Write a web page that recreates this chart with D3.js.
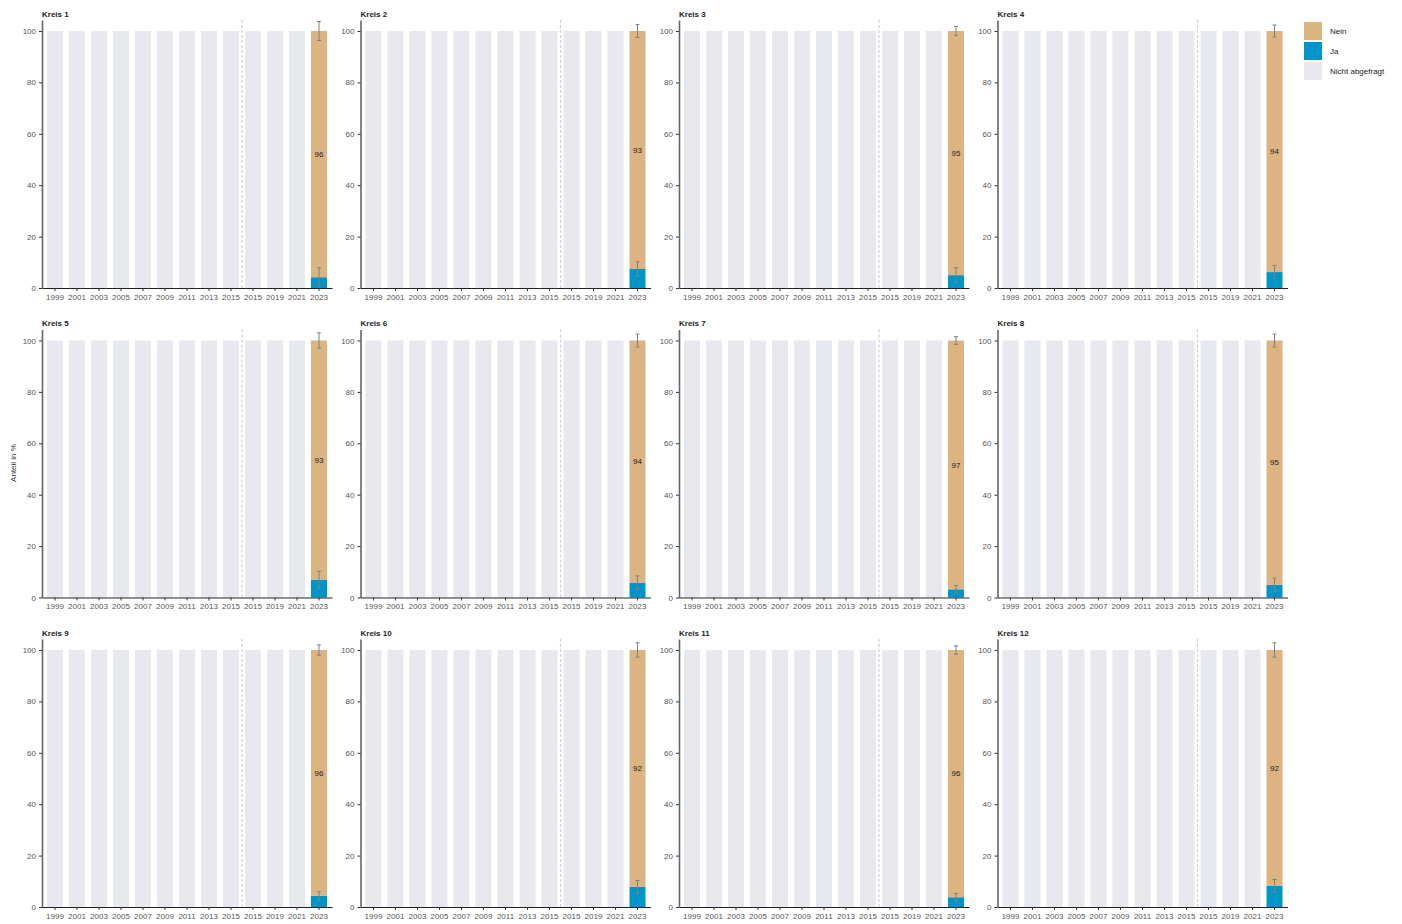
<!DOCTYPE html>
<html>
<head>
<meta charset="utf-8">
<script src="https://cdn.jsdelivr.net/npm/d3@7"></script>
<style>
  html, body { margin: 0; padding: 0; background: #ffffff; }
  svg { display: block; font-family: "Liberation Sans", Arial, Helvetica, sans-serif; }
</style>
</head>
<body>
<svg id="chart" width="1402" height="924"></svg>
<script>
// ---- Data ----
const kreise = ["Kreis 1","Kreis 2","Kreis 3","Kreis 4","Kreis 5","Kreis 6",
                "Kreis 7","Kreis 8","Kreis 9","Kreis 10","Kreis 11","Kreis 12"];
const yearLabels = ["1999","2001","2003","2005","2007","2009","2011","2013","2015","2015","2019","2021","2023"];
// status per year: "na" = Nicht abgefragt, "survey" = asked
const yearStatus = ["na","na","na","na","na","na","na","na","na","na","na","na","survey"];
const nichtAbgefragt = [100,100,100,100,100,100,100,100,100,100,100,100,0];
// 2023 values per Kreis
const jaValues   = [4.2, 7.4, 5.0, 6.2, 7.0, 5.8, 3.2, 5.0, 4.4, 7.8, 3.8, 8.2];
const neinValues = [95.8, 92.6, 95.0, 93.8, 93.0, 94.2, 96.8, 95.0, 95.6, 92.2, 96.2, 91.8];
const jaErr      = [3.7, 2.8, 2.9, 2.6, 3.2, 2.6, 1.5, 2.5, 1.6, 2.5, 1.5, 2.5];
const neinErr    = [3.7, 2.5, 1.8, 2.3, 3.0, 2.5, 1.5, 2.5, 2.0, 2.8, 1.6, 2.8];
const yTicks = [0, 20, 40, 60, 80, 100];
const legendLabels = ["Nein", "Ja", "Nicht abgefragt"];

// ---- Styles ----
const colNein = "#dcb482", colJa = "#0095c8", colNA = "#e8e8ef";
const legendColors = [colNein, colJa, colNA];

const svg = d3.select("#chart");
const colX = [42, 360.5, 679, 997.5];
const rowY = [288, 597.5, 907];   // baseline (y=0) per row
const plotW = 290;
const plotH = 268;  // domain 0..104.28
const yMax = 104.28;

kreise.forEach((name, k) => {
  const c = k % 4, r = Math.floor(k / 4);
  const x0 = colX[c], base = rowY[r];
  const g = svg.append("g").attr("transform", `translate(${x0},${base - plotH})`);

  const x = d3.scaleBand().domain(d3.range(yearLabels.length))
    .range([0, plotW]).paddingInner(0.273).paddingOuter(0.227);
  const y = d3.scaleLinear().domain([0, yMax]).range([plotH, 0]);

  // Nicht abgefragt bars
  g.selectAll("rect.na").data(d3.range(yearLabels.length).filter(i => yearStatus[i] === "na"))
    .join("rect").attr("class", "na")
    .attr("x", i => x(i)).attr("width", x.bandwidth())
    .attr("y", i => y(nichtAbgefragt[i])).attr("height", i => y(0) - y(nichtAbgefragt[i]))
    .attr("fill", colNA);

  // 2023 stacked bar
  const i23 = yearStatus.indexOf("survey");
  const ja = jaValues[k], nein = neinValues[k];
  g.append("rect").attr("x", x(i23)).attr("width", x.bandwidth())
    .attr("y", y(ja)).attr("height", y(0) - y(ja)).attr("fill", colJa);
  g.append("rect").attr("x", x(i23)).attr("width", x.bandwidth())
    .attr("y", y(ja + nein)).attr("height", y(ja) - y(ja + nein)).attr("fill", colNein);

  // dashed separator between 9th and 10th bar
  const sepX = (x(8) + x.bandwidth() + x(9)) / 2;
  g.append("line").attr("x1", sepX).attr("x2", sepX)
    .attr("y1", y(yMax)).attr("y2", y(0))
    .attr("stroke", "#d0d0d0").attr("stroke-width", 1.2).attr("stroke-dasharray", "3,2");

  // error bars
  const cx = x(i23) + x.bandwidth() / 2;
  const drawErr = (center, e) => {
    const eg = g.append("g").attr("stroke", "#808080").attr("stroke-width", 1);
    eg.append("line").attr("x1", cx).attr("x2", cx).attr("y1", y(center - e)).attr("y2", y(center + e));
    eg.append("line").attr("x1", cx - 2).attr("x2", cx + 2).attr("y1", y(center - e)).attr("y2", y(center - e));
    eg.append("line").attr("x1", cx - 2).attr("x2", cx + 2).attr("y1", y(center + e)).attr("y2", y(center + e));
  };
  drawErr(ja, jaErr[k]);
  drawErr(ja + nein, neinErr[k]);

  // label
  g.append("text").attr("x", cx).attr("y", y(ja + nein / 2)).attr("dy", "0.35em")
    .attr("text-anchor", "middle").attr("font-size", 8).attr("fill", "#222")
    .text(Math.round(nein));

  // y axis
  const ya = g.append("g").call(d3.axisLeft(y).tickValues(yTicks).tickSize(3).tickPadding(3).tickSizeOuter(0));
  ya.select(".domain").attr("stroke", "#666").attr("stroke-width", 1.6);
  ya.selectAll(".tick line").attr("stroke", "#333");
  ya.selectAll(".tick text").attr("font-size", 8).attr("fill", "#555").attr("font-family", null);

  // x axis
  const xa = g.append("g").attr("transform", `translate(0,${plotH})`)
    .call(d3.axisBottom(x).tickFormat(i => yearLabels[i]).tickSize(3).tickPadding(3).tickSizeOuter(0));
  xa.select(".domain").attr("stroke", "#222").attr("stroke-width", 1.2);
  xa.selectAll(".tick line").attr("stroke", "#333");
  xa.selectAll(".tick text").attr("font-size", 8).attr("fill", "#555").attr("font-family", null);

  // title
  svg.append("text").attr("x", x0).attr("y", base - plotH - 6)
    .attr("dy", "0.35em").attr("font-size", 8).attr("font-weight", "bold").attr("fill", "#222")
    .text(name);
});

// y axis label
svg.append("text").attr("transform", "translate(13,463) rotate(-90)")
  .attr("text-anchor", "middle").attr("dy", "0.35em").attr("font-size", 8).attr("fill", "#333")
  .text("Anteil in %");

// legend
const lg = svg.append("g").attr("transform", "translate(1304,22)");
legendLabels.forEach((lab, i) => {
  lg.append("rect").attr("x", 0).attr("y", i * 20).attr("width", 18).attr("height", 18).attr("fill", legendColors[i]);
  lg.append("text").attr("x", 26).attr("y", i * 20 + 9).attr("dy", "0.35em")
    .attr("font-size", 8).attr("fill", "#222").text(lab);
});
</script>
</body>
</html>
